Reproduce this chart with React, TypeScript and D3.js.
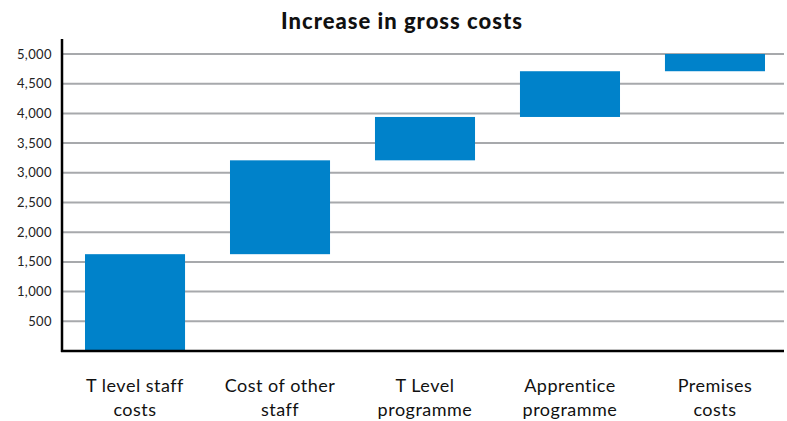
import React from "react";
import * as d3 from "d3";

const categories = [
  ["T level staff", "costs"],
  ["Cost of other", "staff"],
  ["T Level", "programme"],
  ["Apprentice", "programme"],
  ["Premises", "costs"],
];
const increments = [1630, 1580, 730, 770, 290];
const yTicks = [500, 1000, 1500, 2000, 2500, 3000, 3500, 4000, 4500, 5000];
const title = "Increase in gross costs";

const W = 787;
const H = 421;
const left = 62;
const right = 784;
const top = 54;
const bottom = 351;

export default function App() {
  const x = d3
    .scaleBand<number>()
    .domain(d3.range(categories.length))
    .range([left, 788])
    .paddingInner(0.31)
    .paddingOuter(0.1586);
  const y = d3.scaleLinear().domain([0, 5000]).range([bottom, top]);

  let cum = 0;
  const bars = increments.map((v, i) => {
    const start = cum;
    cum += v;
    return { i, start, end: cum };
  });

  const font = "Lato, 'Open Sans', sans-serif";

  return (
    <svg
      width={W}
      height={H}
      style={{ position: "absolute", left: 0, top: 0, background: "#fff" }}
    >
      <text
        x={402}
        y={29}
        textAnchor="middle"
        fontFamily={font}
        fontWeight={900}
        fontSize={22}
        letterSpacing={1}
        fill="#111"
      >
        {title}
      </text>
      {yTicks.map((t) => (
        <g key={t}>
          <line
            x1={left}
            x2={right}
            y1={y(t)}
            y2={y(t)}
            stroke="#a7a9ac"
            strokeWidth={2}
          />
          <text
            x={52}
            y={y(t)}
            dy="0.35em"
            textAnchor="end"
            fontFamily={font}
            fontSize={13}
            letterSpacing={0.4}
            fill="#222"
          >
            {d3.format(",")(t)}
          </text>
        </g>
      ))}
      {bars.map((b) => (
        <rect
          key={b.i}
          x={x(b.i)}
          width={x.bandwidth()}
          y={y(b.end)}
          height={y(b.start) - y(b.end)}
          fill="#0082ca"
        />
      ))}
      <line x1={left} x2={left} y1={39} y2={bottom + 1} stroke="#000" strokeWidth={2.5} />
      <line x1={left - 1} x2={right} y1={bottom} y2={bottom} stroke="#000" strokeWidth={2.5} />
      {categories.map((c, i) => (
        <text
          key={i}
          x={(x(i) as number) + x.bandwidth() / 2}
          y={392}
          textAnchor="middle"
          fontFamily={font}
          fontSize={18}
          letterSpacing={0.5}
          fill="#111"
        >
          {c.map((line, j) => (
            <tspan key={j} x={(x(i) as number) + x.bandwidth() / 2} dy={j === 0 ? 0 : 24}>
              {line}
            </tspan>
          ))}
        </text>
      ))}
    </svg>
  );
}
